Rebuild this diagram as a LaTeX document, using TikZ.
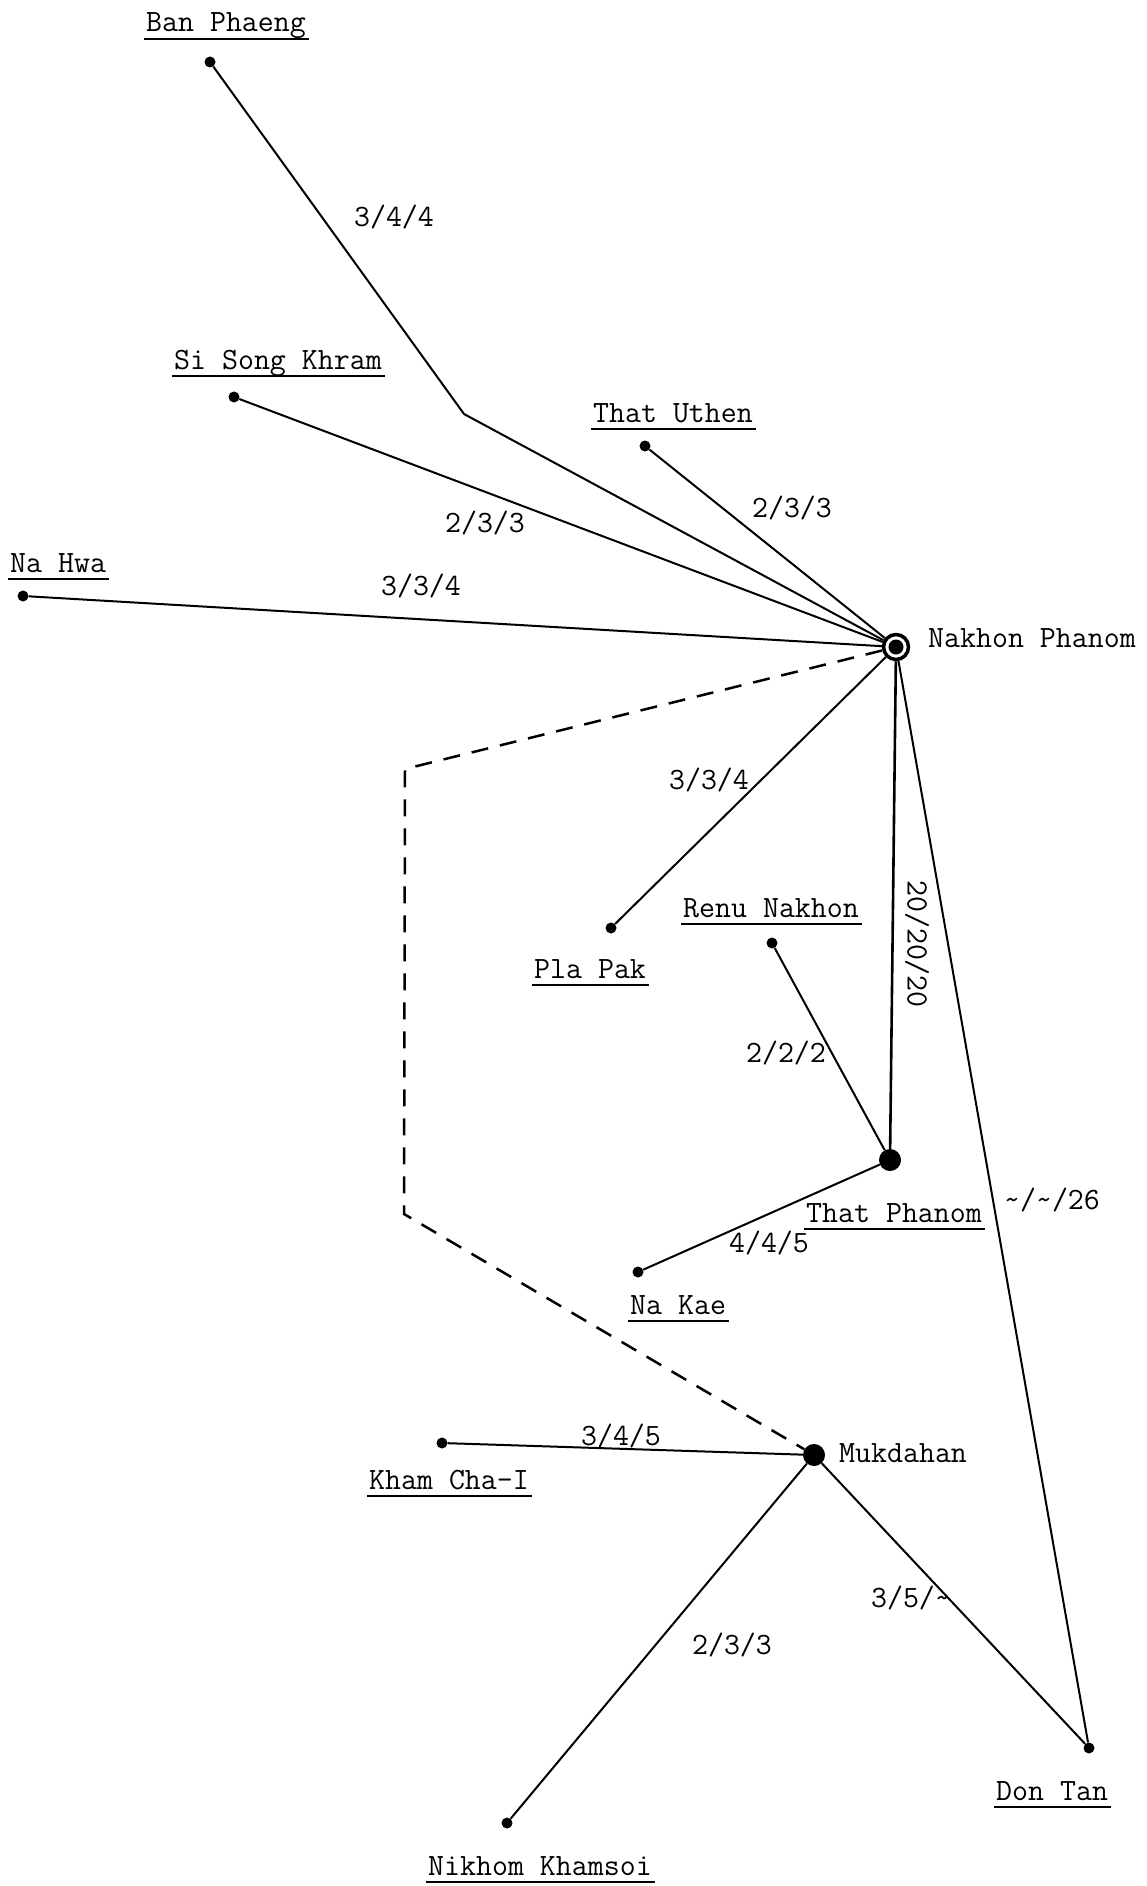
\documentclass[tikz,border=0pt]{standalone}
\newcommand{\plc}[4]{%
  \node[place] (#1) at (#2,#3) {#4};
  \draw[uline] ([shift={(-2pt,-7pt)}]#1.base west) -- ([shift={(3pt,-7pt)}]#1.base east);}
\begin{document}
\begin{tikzpicture}[x=1pt,y=-1pt,
  dot/.style={circle,fill=black,inner sep=0pt,minimum size=11pt},
  bigdot/.style={circle,fill=black,inner sep=0pt,minimum size=22pt},
  place/.style={anchor=base west,inner sep=0pt,font=\fontsize{31}{37}\selectfont\ttfamily},
  elbl/.style={inner sep=0pt,font=\fontsize{31}{37}\selectfont\ttfamily},
  road/.style={line width=2pt},
  track/.style={line width=2.5pt,dash pattern=on 17pt off 12pt},
  uline/.style={line width=1.2pt}]
\useasboundingbox (0,0) rectangle (1146,1886);
\fill[white] (0,0) rectangle (1146,1886);

% towns
\node[dot] (bp) at (210,62) {};
\node[dot] (ssk) at (234,397) {};
\node[dot] (tu) at (645,446) {};
\node[dot] (nh) at (23,596) {};
\node[dot] (pp) at (611,928) {};
\node[dot] (rn) at (772,943) {};
\node[dot] (nk) at (638,1272) {};
\node[dot] (kc) at (442,1443) {};
\node[dot] (dt) at (1089,1748) {};
\node[dot] (nkm) at (507,1823) {};
\node[bigdot] (tp) at (890,1160) {};
\node[bigdot] (mk) at (814,1455) {};
\node[circle,draw,line width=3.5pt,inner sep=0pt,minimum size=25pt] (np) at (896,647) {};
\fill (np.center) circle (7.5pt);
\coordinate (bend) at (464,414);
\coordinate (c1) at (405,769);
\coordinate (c2) at (404,1214);

% roads
\draw[road] (bp) -- (bend) -- (np);
\draw[road] (ssk) -- (np);
\draw[road] (tu) -- (np);
\draw[road] (nh) -- (np);
\draw[road] (np) -- (pp);
\draw[road,line width=2.6pt] (np) -- (tp);
\draw[road] (rn) -- (tp);
\draw[road] (tp) -- (nk);
\draw[road] (np) -- (dt);
\draw[road] (kc) -- (mk);
\draw[road] (mk) -- (dt);
\draw[road] (mk) -- (nkm);
\draw[track] (np) -- (c1) -- (c2) -- (mk);

% place names
\plc{bpL}{146}{32}{Ban Phaeng}
\plc{sskL}{174}{369}{Si Song Khram}
\plc{tuL}{593}{422}{That Uthen}
\plc{nhL}{10}{572}{Na Hwa}
\node[place] (npL) at (928,647) {Nakhon Phanom};
\plc{ppL}{534}{978}{Pla Pak}
\plc{rnL}{683}{917}{Renu Nakhon}
\plc{tpL}{806}{1222}{That Phanom}
\plc{nkL}{630}{1314}{Na Kae}
\node[place] (mkL) at (839,1462) {Mukdahan};
\plc{kcL}{369}{1489}{Kham Cha-I}
\plc{dtL}{996}{1800}{Don Tan}
\plc{nkmL}{428}{1875}{Nikhom Khamsoi}

% edge labels
\node[elbl] (e1) at (394,217) {3/4/4};
\node[elbl] (e2) at (485,523) {2/3/3};
\node[elbl] (e3) at (421,586) {3/3/4};
\node[elbl] (e4) at (792,508) {2/3/3};
\node[elbl] (e5) at (709,780) {3/3/4};
\node[elbl,rotate=-90] (e6) at (917,944) {20/20/20};
\node[elbl] (e7) at (786,1053) {2/2/2};
\node[elbl] (e8) at (769,1243) {4/4/5};
\node[elbl] (e9) at (1052,1200) {\textasciitilde/\textasciitilde/26};
\node[elbl] (e10) at (621,1436) {3/4/5};
\node[elbl] (e11) at (911,1598) {3/5/\textasciitilde};
\node[elbl] (e12) at (732,1645) {2/3/3};
\end{tikzpicture}
\end{document}
